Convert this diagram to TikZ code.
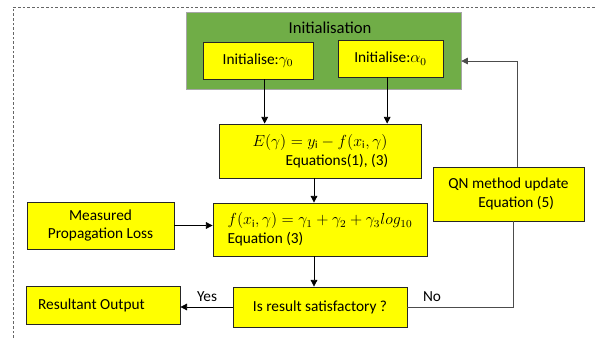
\documentclass[tikz,border=0pt]{standalone}
\usepackage{fontspec}
\setmainfont{Carlito}
\usepackage{xcolor}
\usetikzlibrary{arrows.meta,positioning}
\definecolor{initgreen}{RGB}{112,173,71}
\definecolor{boxyellow}{RGB}{255,255,0}

\begin{document}
\begin{tikzpicture}[
    x=0.75pt, y=-0.75pt,
    box/.style={draw=black!85, fill=boxyellow, rectangle, inner sep=2pt,
        align=center, line width=0.6pt, font=\fontsize{11.5}{14}\selectfont},
    arrow/.style={-{Triangle[length=5pt, width=5pt]}, line width=0.6pt},
    lbl/.style={font=\fontsize{11.5}{14}\selectfont},
]
\useasboundingbox (0,0) rectangle (596,338);

% Outer frame
\draw[gray!80!black, dash pattern=on 2pt off 1.5pt] (13,338) -- (13,7) -- (596,7);

% Initialisation block
\node[draw=gray!70, fill=initgreen, minimum width=206.25pt, minimum height=57.75pt] (init) at (323.5,50.5) {};
\node[font=\fontsize{12.5}{15}\selectfont] (inittitle) at (330,28) {Initialisation};
\node[box, minimum width=82.5pt, minimum height=27.75pt] (gammainit) at (258,60.5) {Initialise:$\gamma_0$};
\node[box, minimum width=78.75pt, minimum height=27.75pt] (alphainit) at (390.5,58.5) {Initialise:$\alpha_0$};

% Error function
\node[box, minimum width=151.5pt, minimum height=40.5pt] (error) at (320,151) {$E(\gamma) = y_{\mathrm{i}} - f(x_{\mathrm{i}},\gamma)$\\\hspace*{2.2em}Equations(1), (3)};

% Model
\node[box, minimum width=160.5pt, minimum height=39.75pt, align=left] (model) at (320,229.5) {$f(x_{\mathrm{i}},\gamma) = \gamma_1 + \gamma_2 + \gamma_3 log_{10}$\\Equation (3)};

% Measured data
\node[box, minimum width=110.25pt, minimum height=35.25pt] (measured) at (100.5,225.5) {Measured\\Propagation Loss};

% QN update
\node[box, minimum width=113.25pt, minimum height=40.5pt] (qnupdate) at (508.5,194) {QN method update\\\hspace*{1em}Equation (5)};

% Decision
\node[box, minimum width=130.5pt, minimum height=30pt] (check) at (320,307) {Is result satisfactory ?};

% Output
\node[box, minimum width=115.5pt, minimum height=28.5pt] (result) at (103,305) {Resultant Output\hspace*{1.5em}};

% Arrows
\draw[arrow] ([xshift=5pt]gammainit.south) -- ([xshift=5pt]gammainit.south |- error.north);
\draw[arrow] ([xshift=-2.5pt]alphainit.south) -- ([xshift=-2.5pt]alphainit.south |- error.north);
\draw[arrow] ([xshift=-4.5pt]error.south) -- ([xshift=-4.5pt]error.south |- model.north);
\draw[arrow] (measured.east) -- (measured.east -| model.west);
\draw[arrow] ([xshift=-4.5pt]model.south) -- ([xshift=-4.5pt]model.south |- check.north);
\draw[arrow] (check.west) -- (check.west -| result.east);
\draw[gray!60!black, line width=0.6pt] (check.east) -| ([xshift=3.5pt]qnupdate.south);
\draw[arrow, gray!60!black] ([xshift=7pt]qnupdate.north) |- ([yshift=-7.9pt]init.east);

% Labels
\node[lbl] (yes) at (207,297) {Yes};
\node[lbl] (no) at (432,297) {No};

\end{tikzpicture}
\end{document}
